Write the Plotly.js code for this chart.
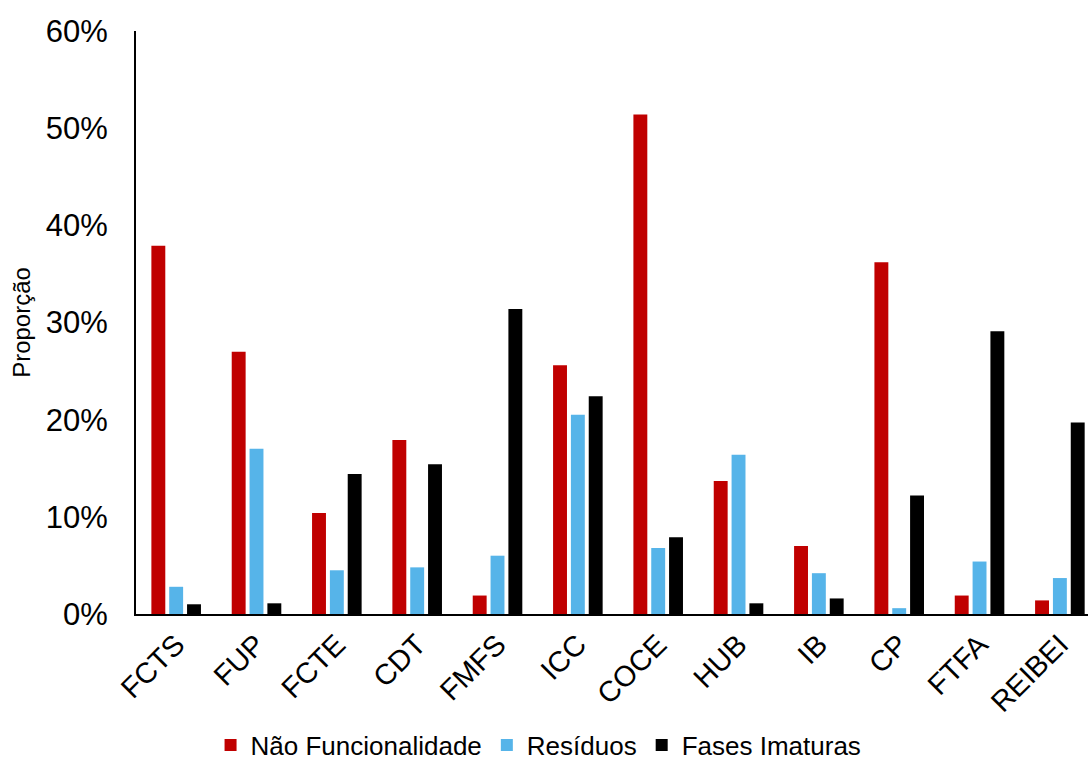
<!DOCTYPE html>
<html>
<head>
<meta charset="utf-8">
<script src="https://cdn.plot.ly/plotly-3.0.1.min.js"></script>
<style>html,body{margin:0;padding:0;background:#fff;}#chart{width:1088px;height:765px;}</style>
</head>
<body>
<div id="chart"></div>
<script>
const categories = ["FCTS","FUP","FCTE","CDT","FMFS","ICC","COCE","HUB","IB","CP","FTFA","REIBEI"];
const naoFuncionalidade = [37.9, 27.0, 10.4, 17.9, 1.9, 25.6, 51.4, 13.7, 7.0, 36.2, 1.9, 1.4];
const residuos = [2.8, 17.0, 4.5, 4.8, 6.0, 20.5, 6.8, 16.4, 4.2, 0.6, 5.4, 3.7];
const fasesImaturas = [1.0, 1.1, 14.4, 15.4, 31.4, 22.4, 7.9, 1.1, 1.6, 12.2, 29.1, 19.7];
const seriesNames = ["Não Funcionalidade","Resíduos","Fases Imaturas"];
const yTickVals = [0,10,20,30,40,50,60];
const yTickText = ["0%","10%","20%","30%","40%","50%","60%"];

const font = "Liberation Sans, Arial, sans-serif";
const traces = [
  {name: seriesNames[0], y: naoFuncionalidade, color: "#C00000"},
  {name: seriesNames[1], y: residuos, color: "#56B4E9"},
  {name: seriesNames[2], y: fasesImaturas, color: "#000000"}
].map(s => ({
  type: "bar", x: categories, y: s.y, name: s.name,
  marker: {color: s.color, line: {width: 0}}
}));

const layout = {
  width: 1088, height: 765,
  margin: {l: 136, r: 0, t: 31, b: 151, autoexpand: false},
  paper_bgcolor: "#fff", plot_bgcolor: "#fff",
  barmode: "group", bargap: 0.334, bargroupgap: 0.22,
  font: {family: font, color: "#000"},
  xaxis: {
    type: "category", range: [-0.5, 11.35], automargin: false,
    tickangle: -45, tickfont: {size: 29, family: font, color: "#000"},
    showline: true, linecolor: "#000", linewidth: 2,
    ticks: "", showgrid: false, zeroline: false, fixedrange: true
  },
  yaxis: {
    range: [0, 60], tickmode: "array", tickvals: yTickVals, ticktext: yTickText,
    automargin: false,
    tickfont: {size: 31, family: font, color: "#000"},
    showline: true, linecolor: "#000", linewidth: 2,
    ticks: "", ticklabelstandoff: 20, showgrid: false, zeroline: false,
    title: {text: "Proporção", font: {size: 24, family: font, color: "#000"}, standoff: 8}
  },
  showlegend: true,
  legend: {
    orientation: "h", xref: "container", yref: "container",
    x: 0.495, xanchor: "center", y: 0.026, yanchor: "middle",
    font: {size: 26, family: font, color: "#000"}, itemwidth: 30,
    traceorder: "normal"
  }
};
Plotly.newPlot("chart", traces, layout, {displayModeBar: false, staticPlot: true});
</script>
</body>
</html>
